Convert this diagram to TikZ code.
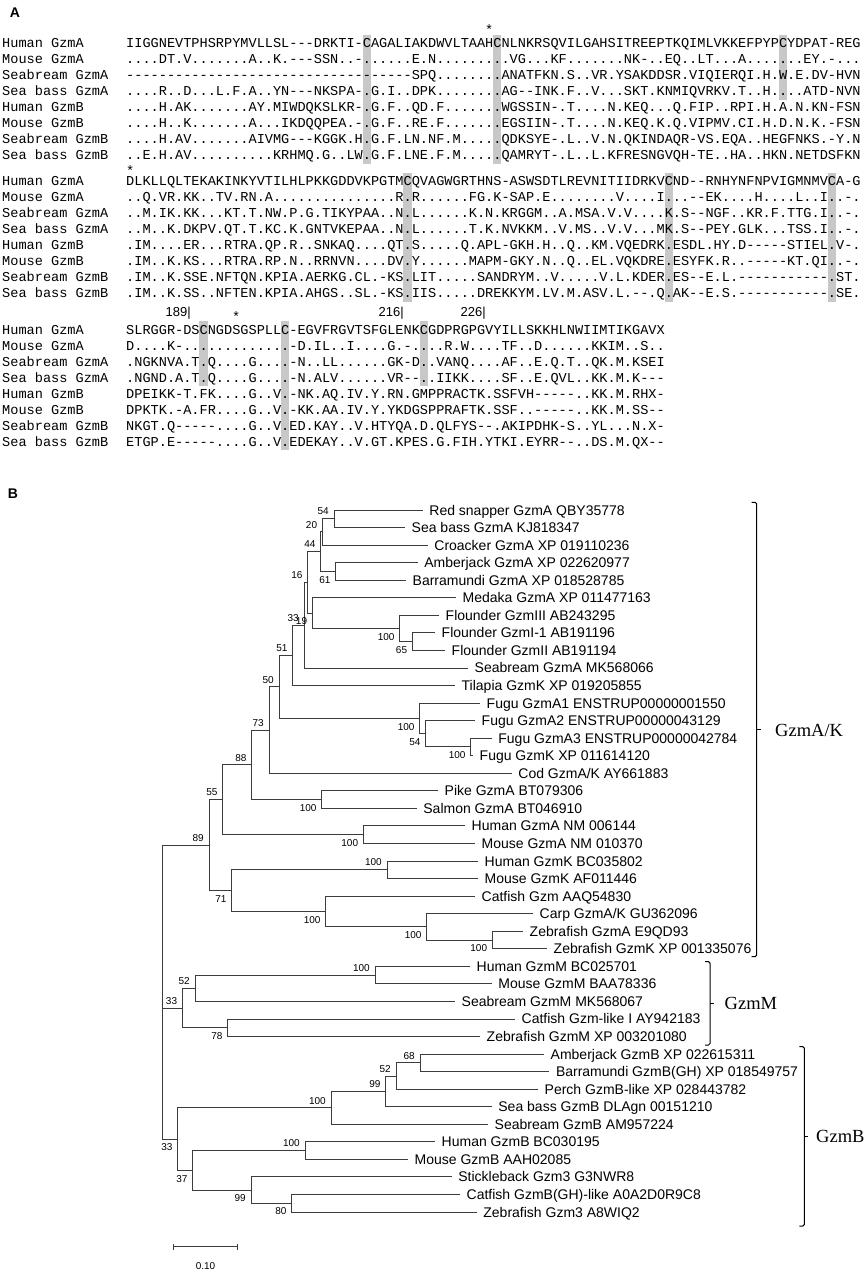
\documentclass[tikz,border=0pt]{standalone}
\usepackage{fontspec}
\setmainfont{Liberation Serif}
\setsansfont{Liberation Sans}
\setmonofont{Liberation Mono}
\usetikzlibrary{calc}
\definecolor{bargray}{RGB}{200,200,200}
\definecolor{brgray}{RGB}{60,60,60}
\begin{document}
\begin{tikzpicture}[x=1pt,y=-1pt,
  nm/.style={anchor=base west,inner sep=0pt,font=\fontsize{13.6}{16}\selectfont\ttfamily},
  sq/.style={anchor=base west,inner sep=0pt,font=\fontsize{13.6}{16}\selectfont\ttfamily},
  astk/.style={anchor=base,inner sep=0pt,font=\fontsize{13.6}{16}\selectfont\ttfamily},
  posnum/.style={anchor=east,inner sep=0pt,font=\fontsize{13}{15}\selectfont\sffamily},
  panel/.style={inner sep=0pt,font=\fontsize{14}{16}\selectfont\sffamily\bfseries},
  leaf/.style={anchor=west,inner xsep=6.5pt,inner ysep=0pt,text height=10pt,text depth=0pt,font=\fontsize{14}{16}\selectfont\sffamily},
  bsa/.style={anchor=south east,inner sep=0pt,xshift=-5pt,yshift=3.5pt,font=\fontsize{10}{12}\selectfont\sffamily},
  bsb/.style={anchor=north east,inner sep=0pt,xshift=-5pt,yshift=-4.5pt,font=\fontsize{10}{12}\selectfont\sffamily},
  br/.style={draw=brgray,line width=0.9pt},
  brk/.style={draw=black,line width=1pt},
  clade/.style={anchor=west,inner sep=0pt,font=\fontsize{18.5}{20}\selectfont\rmfamily},
  gbar/.style={fill=bargray,draw=none}
]
\useasboundingbox (0,0) rectangle (867,1272);
\fill[white] (0,0) rectangle (867,1272);

% ---------------- Panel A ----------------
\node[panel] (pA) at (15,13) {A};

% gray conserved-cysteine bars
\fill[gbar] (362.64,34.5) rectangle +(8.16,129);
\fill[gbar] (493.20,34.5) rectangle +(8.16,129);
\fill[gbar] (778.80,34.5) rectangle +(8.16,65);
\fill[gbar] (403.44,172.7) rectangle +(8.16,129);
\fill[gbar] (664.56,172.7) rectangle +(8.16,129);
\fill[gbar] (827.76,172.7) rectangle +(8.16,129);
\fill[gbar] (199.44,321) rectangle +(8.16,65);
\fill[gbar] (281.04,321) rectangle +(8.16,129);
\fill[gbar] (419.76,321) rectangle +(8.16,65);

% names
\foreach \b/\y in {1/47.3,2/185.7,3/334}{
  \foreach \n [count=\i from 0] in {Human GzmA,Mouse GzmA,Seabream GzmA,Sea bass GzmA,Human GzmB,Mouse GzmB,Seabream GzmB,Sea bass GzmB}
    \node[nm] (nm\b-\i) at (2,\y+16*\i) {\n};
}

% block 1
\node[astk] (s1) at (489.1,34.5) {*};
\node[sq] (a1) at (126,47.3) {IIGGNEVTPHSRPYMVLLSL---DRKTI-CAGALIAKDWVLTAAHCNLNKRSQVILGAHSITREEPTKQIMLVKKEFPYPCYDPAT-REG};
\node[sq] (a2) at (126,63.3) {....DT.V.......A..K.---SSN..-......E.N.........VG...KF.......NK-..EQ..LT...A.......EY.-...};
\node[sq] (a3) at (126,79.3) {-----------------------------------SPQ........ANATFKN.S..VR.YSAKDDSR.VIQIERQI.H.W.E.DV-HVN};
\node[sq] (a4) at (126,95.3) {....R..D...L.F.A..YN---NKSPA-.G.I..DPK........AG--INK.F..V...SKT.KNMIQVRKV.T..H....ATD-NVN};
\node[sq] (a5) at (126,111.3) {....H.AK.......AY.MIWDQKSLKR-.G.F..QD.F.......WGSSIN-.T....N.KEQ...Q.FIP..RPI.H.A.N.KN-FSN};
\node[sq] (a6) at (126,127.3) {....H..K.......A...IKDQQPEA.-.G.F..RE.F.......EGSIIN-.T....N.KEQ.K.Q.VIPMV.CI.H.D.N.K.-FSN};
\node[sq] (a7) at (126,143.3) {....H.AV.......AIVMG---KGGK.H.G.F.LN.NF.M.....QDKSYE-.L..V.N.QKINDAQR-VS.EQA..HEGFNKS.-Y.N};
\node[sq] (a8) at (126,159.3) {..E.H.AV..........KRHMQ.G..LW.G.F.LNE.F.M.....QAMRYT-.L..L.KFRESNGVQH-TE..HA..HKN.NETDSFKN};

% block 2
\node[astk] (s2) at (130.1,175) {*};
\node[sq] (b1) at (126,185.7) {DLKLLQLTEKAKINKYVTILHLPKKGDDVKPGTMCQVAGWGRTHNS-ASWSDTLREVNITIIDRKVCND--RNHYNFNPVIGMNMVCA-G};
\node[sq] (b2) at (126,201.7) {..Q.VR.KK..TV.RN.A...............R.R......FG.K-SAP.E........V....I...--EK....H....L..I..-.};
\node[sq] (b3) at (126,217.7) {..M.IK.KK...KT.T.NW.P.G.TIKYPAA..N.L......K.N.KRGGM..A.MSA.V.V....K.S--NGF..KR.F.TTG.I..-.};
\node[sq] (b4) at (126,233.7) {..M..K.DKPV.QT.T.KC.K.GNTVKEPAA..N.L......T.K.NVKKM..V.MS..V.V...MK.S--PEY.GLK...TSS.I..-.};
\node[sq] (b5) at (126,249.7) {.IM....ER...RTRA.QP.R..SNKAQ....QT.S.....Q.APL-GKH.H..Q..KM.VQEDRK.ESDL.HY.D-----STIEL.V-.};
\node[sq] (b6) at (126,265.7) {.IM..K.KS...RTRA.RP.N..RRNVN....DV.Y......MAPM-GKY.N..Q..EL.VQKDRE.ESYFK.R..-----KT.QI..-.};
\node[sq] (b7) at (126,281.7) {.IM..K.SSE.NFTQN.KPIA.AERKG.CL.-KS.LIT.....SANDRYM..V.....V.L.KDER.ES--E.L.-----------.ST.};
\node[sq] (b8) at (126,297.7) {.IM..K.SS..NFTEN.KPIA.AHGS..SL.-KS.IIS.....DREKKYM.LV.M.ASV.L.--.Q.AK--E.S.-----------.SE.};

% block 3
\node[posnum] (p189) at (191,313) {189|};
\node[posnum] (p216) at (404,313) {216|};
\node[posnum] (p226) at (486,313) {226|};
\node[astk] (s3) at (236.2,321.5) {*};
\node[sq] (c1) at (126,334) {SLRGGR-DSCNGDSGSPLLC-EGVFRGVTSFGLENKCGDPRGPGVYILLSKKHLNWIIMTIKGAVX};
\node[sq] (c2) at (126,350) {D....K-.............-D.IL..I....G.-....R.W....TF..D......KKIM..S..};
\node[sq] (c3) at (126,366) {.NGKNVA.T.Q....G....-N..LL......GK-D..VANQ....AF..E.Q.T..QK.M.KSEI};
\node[sq] (c4) at (126,382) {.NGND.A.T.Q....G....-N.ALV......VR--..IIKK....SF..E.QVL..KK.M.K---};
\node[sq] (c5) at (126,398) {DPEIKK-T.FK....G..V.-NK.AQ.IV.Y.RN.GMPPRACTK.SSFVH-----..KK.M.RHX-};
\node[sq] (c6) at (126,414) {DPKTK.-A.FR....G..V.-KK.AA.IV.Y.YKDGSPPRAFTK.SSF..-----..KK.M.SS--};
\node[sq] (c7) at (126,430) {NKGT.Q-----....G..V.ED.KAY..V.HTYQA.D.QLFYS--.AKIPDHK-S..YL...N.X-};
\node[sq] (c8) at (126,446) {ETGP.E-----....G..V.EDEKAY..V.GT.KPES.G.FIH.YTKI.EYRR--..DS.M.QX--};

% ---------------- Panel B ----------------
\node[panel] (pB) at (13,494) {B};

% leaves
\node[leaf] (L1) at (422.7,510) {Red snapper GzmA QBY35778};
\node[leaf] (L2) at (405,527.55) {Sea bass GzmA KJ818347};
\node[leaf] (L3) at (427.7,545.1) {Croacker GzmA XP 019110236};
\node[leaf] (L4) at (417.7,562.65) {Amberjack GzmA XP 022620977};
\node[leaf] (L5) at (406,580.2) {Barramundi GzmA XP 018528785};
\node[leaf] (L6) at (456,597.75) {Medaka GzmA XP 011477163};
\node[leaf] (L7) at (439,615.3) {Flounder GzmIII AB243295};
\node[leaf] (L8) at (435,632.85) {Flounder GzmI-1 AB191196};
\node[leaf] (L9) at (445,650.4) {Flounder GzmII AB191194};
\node[leaf] (L10) at (468,667.95) {Seabream GzmA MK568066};
\node[leaf] (L11) at (455,685.5) {Tilapia GzmK XP 019205855};
\node[leaf] (L12) at (480,703.05) {Fugu GzmA1 ENSTRUP00000001550};
\node[leaf] (L13) at (475,720.6) {Fugu GzmA2 ENSTRUP00000043129};
\node[leaf] (L14) at (491.7,738.15) {Fugu GzmA3 ENSTRUP00000042784};
\node[leaf] (L15) at (473,755.7) {Fugu GzmK XP 011614120};
\node[leaf] (L16) at (511.7,773.25) {Cod GzmA/K AY661883};
\node[leaf] (L17) at (438,790.8) {Pike GzmA BT079306};
\node[leaf] (L18) at (416.7,808.35) {Salmon GzmA BT046910};
\node[leaf] (L19) at (465,825.9) {Human GzmA NM 006144};
\node[leaf] (L20) at (475,843.45) {Mouse GzmA NM 010370};
\node[leaf] (L21) at (478,861) {Human GzmK BC035802};
\node[leaf] (L22) at (478,878.55) {Mouse GzmK AF011446};
\node[leaf] (L23) at (475,896.1) {Catfish Gzm AAQ54830};
\node[leaf] (L24) at (533,913.65) {Carp GzmA/K GU362096};
\node[leaf] (L25) at (523,931.2) {Zebrafish GzmA E9QD93};
\node[leaf] (L26) at (547,948.75) {Zebrafish GzmK XP 001335076};
\node[leaf] (L27) at (470,966.3) {Human GzmM BC025701};
\node[leaf] (L28) at (491.7,983.85) {Mouse GzmM BAA78336};
\node[leaf] (L29) at (455,1001.4) {Seabream GzmM MK568067};
\node[leaf] (L30) at (515,1018.95) {Catfish Gzm-like I AY942183};
\node[leaf] (L31) at (480,1036.5) {Zebrafish GzmM XP 003201080};
\node[leaf] (L32) at (544,1054.05) {Amberjack GzmB XP 022615311};
\node[leaf] (L33) at (549.3,1071.6) {Barramundi GzmB(GH) XP 018549757};
\node[leaf] (L34) at (538,1089.15) {Perch GzmB-like XP 028443782};
\node[leaf] (L35) at (491.7,1106.7) {Sea bass GzmB DLAgn 00151210};
\node[leaf] (L36) at (488,1124.25) {Seabream GzmB AM957224};
\node[leaf] (L37) at (435,1141.8) {Human GzmB BC030195};
\node[leaf] (L38) at (408,1159.35) {Mouse GzmB AAH02085};
\node[leaf] (L39) at (451.7,1176.9) {Stickleback Gzm3 G3NWR8};
\node[leaf] (L40) at (460,1194.45) {Catfish GzmB(GH)-like A0A2D0R9C8};
\node[leaf] (L41) at (476.7,1212) {Zebrafish Gzm3 A8WIQ2};

% internal nodes
\coordinate (n1) at (334,518.78);
\coordinate (n2) at (322.3,531.94);
\coordinate (n3) at (335.7,571.43);
\coordinate (n4) at (320.7,551.68);
\coordinate (n5) at (412.3,641.63);
\coordinate (n6) at (399.7,628.46);
\coordinate (n7) at (312.3,613.1);
\coordinate (n8) at (307.7,582.39);
\coordinate (n9) at (304,625.17);
\coordinate (n10) at (292.7,655.33);
\coordinate (n11) at (470.7,746.93);
\coordinate (n12) at (425.7,733.76);
\coordinate (n13) at (419.7,718.4);
\coordinate (n14) at (279,686.87);
\coordinate (n15) at (269,730.06);
\coordinate (n16) at (321.7,799.58);
\coordinate (n17) at (251.7,764.82);
\coordinate (n18) at (363.3,834.68);
\coordinate (n19) at (222.7,799.75);
\coordinate (n20) at (387,869.78);
\coordinate (n21) at (492.3,939.98);
\coordinate (n22) at (426.7,926.81);
\coordinate (n23) at (325.7,911.46);
\coordinate (n24) at (231.7,890.62);
\coordinate (n25) at (209,845.19);
\coordinate (n26) at (375,975.08);
\coordinate (n27) at (195,988.24);
\coordinate (n28) at (227.7,1027.73);
\coordinate (n29) at (182.3,1007.99);
\coordinate (n30) at (420,1062.83);
\coordinate (n31) at (396,1075.99);
\coordinate (n32) at (385.7,1091.35);
\coordinate (n33) at (331,1107.8);
\coordinate (n34) at (305,1150.58);
\coordinate (n35) at (291.7,1203.23);
\coordinate (n36) at (251,1190.07);
\coordinate (n37) at (192.7,1170.33);
\coordinate (n38) at (177.7,1139.07);
\coordinate (root) at (162.3,992.13);

% branches
\foreach \p/\c in {n1/L1.west,n1/L2.west,n2/n1,n2/L3.west,n3/L4.west,n3/L5.west,n4/n2,n4/n3,
  n5/L8.west,n5/L9.west,n6/L7.west,n6/n5,n7/L6.west,n7/n6,n8/n4,n8/n7,n9/n8,n9/L10.west,
  n10/n9,n10/L11.west,n11/L14.west,n11/L15.west,n12/L13.west,n12/n11,n13/L12.west,n13/n12,
  n14/n10,n14/n13,n15/n14,n15/L16.west,n16/L17.west,n16/L18.west,n17/n15,n17/n16,
  n18/L19.west,n18/L20.west,n19/n17,n19/n18,n20/L21.west,n20/L22.west,n21/L25.west,n21/L26.west,
  n22/L24.west,n22/n21,n23/L23.west,n23/n22,n24/n20,n24/n23,n25/n19,n25/n24,
  n26/L27.west,n26/L28.west,n27/n26,n27/L29.west,n28/L30.west,n28/L31.west,n29/n27,n29/n28,
  n30/L32.west,n30/L33.west,n31/n30,n31/L34.west,n32/n31,n32/L35.west,n33/n32,n33/L36.west,
  n34/L37.west,n34/L38.west,n35/L40.west,n35/L41.west,n36/L39.west,n36/n35,n37/n34,n37/n36,
  n38/n33,n38/n37,root/n25,root/n29,root/n38}
  \draw[br] (\p) |- (\c);

% bootstrap values
\foreach \n/\v in {n1/54,n2/20,n4/44,n8/16,n9/33,n10/51,n14/50,n15/73,n17/88,n19/55,n20/100,
  n25/89,n26/100,n27/52,n29/33,n30/68,n31/52,n32/99,n33/100,n34/100}
  \node[bsa] at (\n) {\v};
\foreach \n/\v in {n3/61,n5/65,n6/100,n7/19,n11/100,n12/54,n13/100,n16/100,n18/100,n21/100,
  n22/100,n23/100,n24/71,n28/78,n35/80,n36/99,n37/37,n38/33}
  \node[bsb] at (\n) {\v};

% clade brackets
\coordinate (kA1) at (756.7,502.3);
\coordinate (kA2) at (756.7,956.7);
\coordinate (kAm) at (756.7,729.5);
\draw[brk,rounded corners=1.5pt] ($(kA1)+(-5,0)$) -- (kA1) -- (kA2) -- ($(kA2)+(-5,0)$);
\draw[brk] (kAm) -- +(4,0);
\node[clade] (cA) at (775,730) {GzmA/K};

\coordinate (kM1) at (710,961.7);
\coordinate (kM2) at (710,1045);
\coordinate (kMm) at (710,1003.3);
\draw[brk,rounded corners=1.5pt] ($(kM1)+(-5,0)$) -- (kM1) -- (kM2) -- ($(kM2)+(-5,0)$);
\draw[brk] (kMm) -- +(4,0);
\node[clade] (cM) at (724.5,1003) {GzmM};

\coordinate (kB1) at (804.3,1046.7);
\coordinate (kB2) at (804.3,1226);
\coordinate (kBm) at (804.3,1136.4);
\draw[brk,rounded corners=1.5pt] ($(kB1)+(-5,0)$) -- (kB1) -- (kB2) -- ($(kB2)+(-5,0)$);
\draw[brk] (kBm) -- +(4,0);
\node[clade] (cB) at (816,1136) {GzmB};

% scale bar
\coordinate (sb1) at (173.3,1246.7);
\coordinate (sb2) at (237.7,1246.7);
\draw[br] (sb1) -- (sb2);
\draw[br] ($(sb1)+(0,-3)$) -- ($(sb1)+(0,3)$);
\draw[br] ($(sb2)+(0,-3)$) -- ($(sb2)+(0,3)$);
\node[inner sep=0pt,font=\fontsize{10}{12}\selectfont\sffamily] (sbl) at (205.5,1266) {0.10};
\end{tikzpicture}
\end{document}
